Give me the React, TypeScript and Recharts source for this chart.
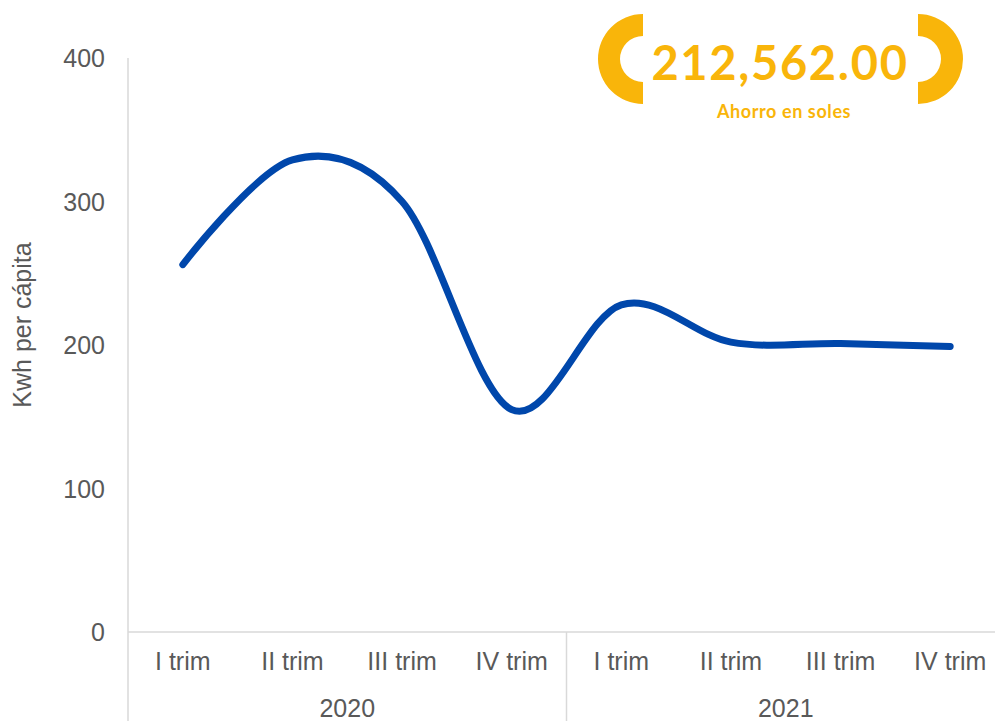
import React from 'react';
import { LineChart, Line, XAxis, YAxis } from 'recharts';

const quarters = ['I trim', 'II trim', 'III trim', 'IV trim', 'I trim', 'II trim', 'III trim', 'IV trim'];
const years = ['2020', '2020', '2020', '2020', '2021', '2021', '2021', '2021'];
const kwhPerCapita = [256, 329, 300, 155, 228, 202, 201, 199];
const yTicks = [0, 100, 200, 300, 400];
const savingsValue = '212,562.00';
const savingsLabel = 'Ahorro en soles';

const data = quarters.map((q, i) => ({ quarter: q, year: years[i], kwh: kwhPerCapita[i] }));

const WIDTH = 995;
const HEIGHT = 721;
const CHART_W = 1010;
const MARGIN = { top: 58, right: 5, bottom: 0, left: 0 };
const Y_AXIS_W = 128;
const X_AXIS_H = 89;
const PLOT_W = CHART_W - MARGIN.left - MARGIN.right - Y_AXIS_W;
// half of one quarter's slot, so points sit in the middle of each slot
const HALF_SLOT = PLOT_W / quarters.length / 2;

const GRAY_TEXT = '#595959';
const GRAY_LINE = '#d9d9d9';
const BLUE = '#0047AB';
const GOLD = '#F9B50A';
const FONT = '"Liberation Sans", Arial, sans-serif';

// Catmull-Rom style smoothing (cardinal, tension 0), like spreadsheet "smoothed line"
const smoothCurve = (context: any) => {
  const k = 1 / 6;
  let x0 = NaN, y0 = NaN, x1 = NaN, y1 = NaN, x2 = NaN, y2 = NaN, pt = 0;
  const seg = (x: number, y: number) => {
    context.bezierCurveTo(
      x1 + k * (x2 - x0),
      y1 + k * (y2 - y0),
      x2 + k * (x1 - x),
      y2 + k * (y1 - y),
      x2,
      y2
    );
  };
  return {
    areaStart() {},
    areaEnd() {},
    lineStart() {
      x0 = x1 = x2 = y0 = y1 = y2 = NaN;
      pt = 0;
    },
    lineEnd() {
      if (pt === 2) context.lineTo(x2, y2);
      else if (pt === 3) seg(x1, y1);
    },
    point(x: number, y: number) {
      x = +x;
      y = +y;
      if (pt === 0) {
        pt = 1;
        context.moveTo(x, y);
      } else if (pt === 1) {
        pt = 2;
        x1 = x;
        y1 = y;
      } else {
        pt = 3;
        seg(x, y);
      }
      x0 = x1; x1 = x2; x2 = x;
      y0 = y1; y1 = y2; y2 = y;
    },
  };
};

const YTick = (props: any) => {
  const { x, y, payload } = props;
  return (
    <text x={x} y={y} dy={9} textAnchor="end" fill={GRAY_TEXT} fontSize={25} fontFamily={FONT}>
      {payload.value}
    </text>
  );
};

const XTick = (props: any) => {
  const { x, y, payload, index } = props;
  const half = HALF_SLOT;
  const groupStart = index % 4 === 0;
  const last = index === quarters.length - 1;
  return (
    <g>
      <text x={x} y={y + 38} textAnchor="middle" fill={GRAY_TEXT} fontSize={25} fontFamily={FONT}>
        {payload.value}
      </text>
      {groupStart && (
        <>
          <line x1={x - half} y1={y} x2={x - half} y2={y + X_AXIS_H} stroke={GRAY_LINE} strokeWidth={1.5} />
          <text x={x + 3 * half} y={y + 85} textAnchor="middle" fill={GRAY_TEXT} fontSize={25} fontFamily={FONT}>
            {years[index]}
          </text>
        </>
      )}
      {last && <line x1={x + half} y1={y} x2={x + half} y2={y + X_AXIS_H} stroke={GRAY_LINE} strokeWidth={1.5} />}
    </g>
  );
};

export default function App() {
  return (
    <div
      style={{
        position: 'absolute',
        left: 0,
        top: 0,
        width: WIDTH,
        height: HEIGHT,
        overflow: 'hidden',
        background: '#fff',
      }}
    >
      <LineChart width={CHART_W} height={HEIGHT} data={data} margin={MARGIN}>
        <XAxis
          dataKey="quarter"
          interval={0}
          height={X_AXIS_H}
          padding={{ left: HALF_SLOT, right: HALF_SLOT }}
          tickSize={0}
          tickMargin={0}
          tickLine={false}
          axisLine={{ stroke: GRAY_LINE, strokeWidth: 1.5 }}
          tick={<XTick />}
        />
        <YAxis
          width={Y_AXIS_W}
          domain={[0, 400]}
          ticks={yTicks}
          tickSize={0}
          tickMargin={23}
          tickLine={false}
          axisLine={{ stroke: GRAY_LINE, strokeWidth: 1.5 }}
          tick={<YTick />}
        />
        <Line
          dataKey="kwh"
          type={smoothCurve as any}
          stroke={BLUE}
          strokeWidth={7}
          strokeLinecap="round"
          dot={false}
          activeDot={false}
          isAnimationActive={false}
        />
      </LineChart>

      <svg
        width={WIDTH}
        height={HEIGHT}
        style={{ position: 'absolute', left: 0, top: 0, pointerEvents: 'none' }}
      >
        <text
          transform="translate(31 325) rotate(-90)"
          textAnchor="middle"
          fill={GRAY_TEXT}
          fontSize={25}
          fontFamily={FONT}
        >
          Kwh per cápita
        </text>

        {/* bracket badge */}
        <path d="M 643 14 A 45 45 0 0 0 643 104 L 643 82 A 23 23 0 0 1 643 36 Z" fill={GOLD} />
        <path d="M 918 14 A 45 45 0 0 1 918 104 L 918 82 A 23 23 0 0 0 918 36 Z" fill={GOLD} />
        <text
          x={780}
          y={80}
          textAnchor="middle"
          fill={GOLD}
          fontSize={47}
          fontWeight={700}
          letterSpacing={1.7}
          fontFamily="Lato, sans-serif"
        >
          {savingsValue}
        </text>
        <text
          x={784}
          y={118}
          textAnchor="middle"
          fill={GOLD}
          fontSize={18}
          fontWeight={700}
          letterSpacing={0.6}
          fontFamily="Lato, sans-serif"
        >
          {savingsLabel}
        </text>
      </svg>
    </div>
  );
}
